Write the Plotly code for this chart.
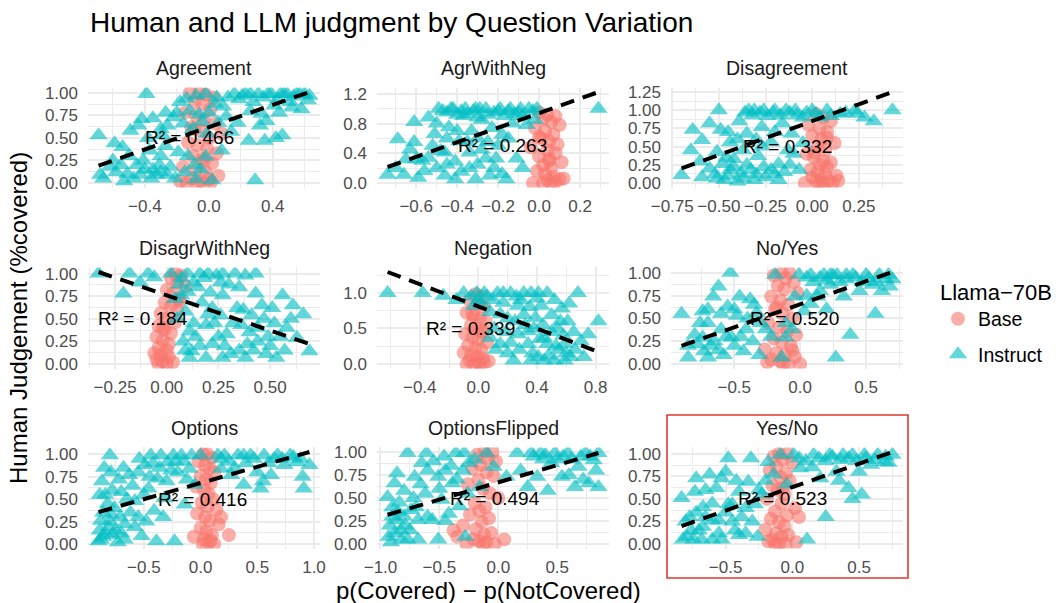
import plotly.graph_objects as go

W, H = 1058, 603

panels = ["Agreement", "AgrWithNeg", "Disagreement", "DisagrWithNeg", "Negation",
          "No/Yes", "Options", "OptionsFlipped", "Yes/No"]
r_squared = [0.466, 0.263, 0.332, 0.184, 0.339, 0.520, 0.416, 0.494, 0.523]
fit_slope = [0.62, 0.98, 0.93, -0.78, -0.78, 0.506, 0.36, 0.375, 0.52]
fit_intercept = [0.62, 0.94, 0.85, 0.76, 0.81, 0.655, 0.68, 0.67, 0.63]
label_x = [-0.118, -0.18, -0.135, -0.115, -0.057, -0.04, 0.021, -0.03, -0.077]
label_y = [0.5, 0.5, 0.5, 0.5, 0.5, 0.5, 0.5, 0.5, 0.5]

# ---------- Base (circles) ----------
agreement_base_x = [-0.12,-0.06,-0.02,0.03,-0.09,-0.04,0.01,-0.15,-0.08,-0.03,0.04,-0.11,-0.05,0.0,-0.13,-0.07,-0.01,0.05,-0.1,-0.04,0.02,-0.16,-0.08,-0.02,0.06,-0.11,-0.05,0.01,-0.14,-0.07,0.0,-0.09,-0.18,0.08,-0.03]
agreement_base_y = [1.0,1.0,0.98,0.95,0.9,0.88,0.82,0.78,0.75,0.7,0.66,0.62,0.58,0.5,0.45,0.42,0.38,0.33,0.3,0.27,0.22,0.18,0.15,0.12,0.08,0.05,0.02,0.0,0.0,0.0,0.04,0.6,0.02,0.55,0.25]
agrneg_base_x = [0.0,0.04,0.08,0.02,0.06,0.1,-0.02,0.03,0.07,0.01,0.05,0.09,-0.04,0.04,0.08,0.0,0.05,0.11,0.02,0.06,-0.01,0.03,0.07,0.12,0.04,0.08,-0.03,0.02,0.06,0.1,0.0,0.05]
agrneg_base_y = [0.95,0.92,0.9,0.86,0.82,0.78,0.74,0.7,0.65,0.6,0.56,0.52,0.48,0.44,0.4,0.36,0.32,0.28,0.24,0.2,0.16,0.12,0.08,0.06,0.04,0.02,0.0,0.0,0.0,0.05,0.62,0.3]
disagree_base_x = [0.02,0.06,0.1,-0.02,0.04,0.08,0.0,0.05,0.12,0.03,0.07,-0.03,0.01,0.06,0.1,0.04,0.08,-0.01,0.03,0.07,0.13,0.0,0.05,0.09,0.02,0.06,-0.04,0.04,0.11,0.14,0.01,0.08]
disagree_base_y = [0.95,0.9,0.85,0.8,0.75,0.7,0.65,0.6,0.55,0.5,0.45,0.4,0.35,0.3,0.28,0.25,0.22,0.18,0.15,0.12,0.1,0.08,0.05,0.03,0.02,0.0,0.0,0.0,0.0,0.03,0.42,0.62]
disneg_base_x = [0.04,0.07,0.02,0.05,0.09,0.0,0.03,0.06,-0.01,0.02,0.05,-0.03,0.0,0.04,-0.04,-0.01,0.02,-0.05,-0.02,0.01,-0.04,0.0,-0.06,-0.03,0.01,-0.05,-0.02,0.03,-0.04,0.0,0.06,-0.02]
disneg_base_y = [1.0,0.98,0.95,0.9,0.86,0.82,0.78,0.72,0.68,0.64,0.6,0.56,0.5,0.46,0.42,0.38,0.34,0.3,0.26,0.22,0.18,0.15,0.12,0.1,0.08,0.05,0.03,0.02,0.0,0.0,0.7,0.4]
negation_base_x = [-0.02,0.02,-0.06,0.0,0.04,-0.08,-0.03,0.01,0.05,-0.05,-0.01,0.03,-0.09,-0.04,0.0,0.06,-0.07,-0.02,0.02,-0.1,-0.05,-0.01,0.03,-0.06,0.0,0.04,-0.08,-0.03,0.01,0.07,-0.04,0.02]
negation_base_y = [0.98,0.95,0.9,0.85,0.8,0.72,0.68,0.64,0.6,0.55,0.5,0.46,0.42,0.38,0.35,0.3,0.26,0.22,0.2,0.16,0.12,0.1,0.08,0.05,0.03,0.02,0.0,0.0,0.0,0.04,0.7,0.45]
noyes_base_x = [-0.14,-0.08,-0.2,-0.11,-0.05,-0.17,-0.12,-0.02,-0.22,-0.15,-0.09,-0.19,-0.13,-0.06,-0.24,-0.16,-0.1,-0.03,-0.2,-0.14,-0.07,-0.27,-0.18,-0.12,-0.04,-0.22,-0.15,-0.09,0.0,-0.25,-0.13,-0.06,-0.18]
noyes_base_y = [1.0,1.0,0.97,0.94,0.9,0.86,0.82,0.78,0.74,0.7,0.65,0.6,0.55,0.5,0.45,0.4,0.36,0.32,0.28,0.24,0.2,0.16,0.12,0.1,0.08,0.05,0.03,0.0,0.0,0.02,0.0,0.15,0.62]
options_base_x = [0.02,0.06,0.1,-0.02,0.04,0.08,0.12,0.0,0.05,0.09,-0.04,0.03,0.07,0.11,0.01,0.06,0.14,-0.03,0.04,0.08,0.16,0.0,0.05,0.1,-0.06,0.03,0.07,0.12,0.02,0.09,0.25,0.18]
options_base_y = [1.0,1.0,0.96,0.92,0.88,0.84,0.8,0.76,0.72,0.68,0.64,0.6,0.56,0.5,0.46,0.42,0.38,0.34,0.3,0.26,0.22,0.18,0.14,0.1,0.08,0.05,0.02,0.0,0.0,0.04,0.1,0.3]
optflip_base_x = [-0.12,-0.05,-0.18,-0.09,-0.02,-0.15,-0.22,-0.1,-0.04,-0.17,-0.26,-0.13,-0.07,0.0,-0.2,-0.11,-0.16,-0.24,-0.08,-0.14,-0.3,-0.19,-0.06,-0.12,-0.35,-0.21,-0.1,-0.03,-0.27,-0.16,0.05,-0.38,-0.13]
optflip_base_y = [1.0,1.0,0.97,0.93,0.9,0.86,0.82,0.78,0.74,0.7,0.65,0.6,0.55,0.5,0.45,0.4,0.36,0.32,0.28,0.24,0.2,0.16,0.12,0.1,0.08,0.05,0.02,0.0,0.0,0.03,0.05,0.15,0.0]
yesno_base_x = [-0.1,-0.04,-0.14,-0.07,0.0,-0.12,-0.17,-0.05,-0.09,-0.02,-0.15,-0.11,-0.06,-0.19,-0.08,0.02,-0.13,-0.04,-0.16,-0.1,-0.06,-0.2,-0.12,-0.03,-0.08,-0.15,0.03,-0.1,-0.05,-0.18,-0.13,-0.07,0.05]
yesno_base_y = [1.0,1.0,0.97,0.93,0.9,0.86,0.82,0.78,0.74,0.7,0.65,0.6,0.55,0.5,0.45,0.4,0.36,0.32,0.28,0.24,0.2,0.16,0.12,0.1,0.08,0.05,0.02,0.0,0.0,0.03,0.0,0.62,0.3]

# ---------- Instruct (triangles), (x, y) pairs ----------
agreement_inst = [(-0.68,0.09),(-0.69,0.53),(-0.59,0.44),(-0.54,0.40),(-0.60,0.25),(-0.55,0.20),(-0.53,0.02),(-0.51,0.10),(-0.49,0.58),(-0.44,0.64),(-0.42,0.71),(-0.39,0.99),(-0.38,0.50),(-0.37,0.36),(-0.41,0.25),(-0.43,0.09),(-0.33,0.09),(-0.31,0.20),(-0.27,0.78),(-0.26,0.64),(-0.29,0.53),(-0.27,0.41),(-0.22,0.73),(-0.20,0.78),(-0.19,0.34),(-0.26,0.09),(-0.18,0.90),(-0.10,0.60),(-0.09,0.20),(-0.08,0.04),(-0.06,0.76),(-0.02,0.99),(-0.01,0.55),(-0.02,0.29),(0.02,0.03),(0.04,0.88),(0.06,0.67),(0.08,0.36),(0.11,0.74),(0.14,0.57),(0.18,0.67),(0.21,0.97),(0.25,0.47),(0.26,0.80),(0.29,0.03),(0.31,0.99),(0.32,0.64),(0.35,0.47),(0.36,0.69),(0.39,0.99),(0.41,0.86),(0.45,0.99),(0.46,0.53),(0.49,0.99),(0.51,0.90),(0.55,0.99),(0.58,0.82),(0.60,0.99),(0.63,0.97),(0.26,0.99),(0.16,0.99),(-0.14,0.94),(-0.47,0.05),(-0.35,0.15),(-0.58,0.12),
                  (0.19,0.93),(0.23,0.99),(0.28,0.90),(0.34,0.95),(0.37,0.99),(0.43,0.93),(0.47,0.99),(0.53,0.96),(0.57,0.99),(0.62,0.92),(0.52,0.84),(0.44,0.78),(0.33,0.77),(0.12,0.95),(0.09,0.85),(-0.45,0.20),(-0.40,0.15),(-0.36,0.05),(-0.30,0.12),(-0.24,0.18),(-0.21,0.05),(-0.15,0.12),(-0.13,0.30),(-0.05,0.15),(-0.30,0.30),(-0.50,0.30),(-0.62,0.18),(-0.66,0.05),(-0.35,0.72),(-0.30,0.60),(-0.16,0.66),(-0.12,0.80),(-0.04,0.68),(0.00,0.78),(0.05,0.95),(-0.08,0.97),(0.42,0.50)]
agrneg_inst = [(-0.74,0.11),(-0.69,0.59),(-0.66,0.11),(-0.61,0.82),(-0.61,0.55),(-0.60,0.32),(-0.59,0.07),(-0.56,0.16),(-0.54,0.34),(-0.51,0.66),(-0.49,1.0),(-0.48,0.43),(-0.46,0.10),(-0.44,0.75),(-0.42,1.0),(-0.41,0.29),(-0.39,0.56),(-0.37,0.90),(-0.36,1.0),(-0.34,0.20),(-0.33,0.70),(-0.31,1.0),(-0.28,0.45),(-0.28,0.85),(-0.26,1.0),(-0.24,0.10),(-0.23,0.74),(-0.21,0.33),(-0.19,1.0),(-0.18,0.65),(-0.16,0.05),(-0.14,1.0),(-0.13,0.80),(-0.11,0.33),(-0.09,1.0),(-0.06,0.78),(-0.05,1.0),(-0.01,1.0),(0.29,1.0),(-0.65,0.32),(-0.54,0.88),(-0.46,0.41),(-0.34,0.41),(-0.26,0.33),(-0.41,0.05),(-0.57,0.30),(-0.31,0.05),(-0.45,0.95),(-0.38,0.97),(-0.22,0.95),(-0.30,0.88),(-0.12,0.93),
               (-0.47,0.97),(-0.43,1.0),(-0.40,0.92),(-0.35,0.93),(-0.32,0.97),(-0.29,1.0),(-0.25,0.92),(-0.20,0.97),(-0.17,0.90),(-0.15,0.97),(-0.10,0.95),(-0.08,0.90),(-0.03,0.97),(-0.02,0.85),(-0.50,0.80),(-0.45,0.60),(-0.40,0.70),(-0.35,0.55),(-0.30,0.60),(-0.25,0.55),(-0.20,0.50),(-0.15,0.60),(-0.50,0.20),(-0.45,0.25),(-0.38,0.15),(-0.30,0.25),(-0.22,0.20),(-0.18,0.12),(-0.08,0.20),(-0.52,0.50),(-0.63,0.45),(-0.70,0.20)]
disagree_inst = [(-0.70,0.11),(-0.65,0.45),(-0.64,0.73),(-0.59,0.59),(-0.55,0.82),(-0.59,0.08),(-0.51,0.43),(-0.50,1.0),(-0.49,0.73),(-0.48,0.26),(-0.47,0.04),(-0.44,0.56),(-0.42,0.33),(-0.40,0.02),(-0.39,0.85),(-0.37,0.45),(-0.35,0.68),(-0.34,1.0),(-0.33,0.18),(-0.31,1.0),(-0.29,0.37),(-0.27,0.77),(-0.26,1.0),(-0.25,0.08),(-0.22,0.56),(-0.20,1.0),(-0.18,0.26),(-0.16,0.82),(-0.14,1.0),(-0.13,0.45),(-0.11,0.68),(-0.09,1.0),(-0.07,0.18),(-0.05,0.90),(0.0,1.0),(0.04,0.90),(0.08,1.0),(0.15,0.95),(0.23,1.0),(0.24,0.95),(0.33,0.85),(0.43,1.0),(-0.44,0.18),(-0.37,0.06),(-0.51,0.06),(-0.31,0.04),(-0.22,0.18),(-0.27,0.50),(-0.18,0.04),
                 (-0.36,0.97),(-0.32,0.93),(-0.28,0.97),(-0.24,0.92),(-0.21,0.97),(-0.17,0.93),(-0.12,0.97),(-0.08,0.93),(-0.03,0.97),(0.02,0.95),(0.10,0.92),(0.18,0.97),(0.28,0.90),(-0.55,0.20),(-0.52,0.12),(-0.45,0.10),(-0.42,0.22),(-0.38,0.13),(-0.35,0.25),(-0.30,0.12),(-0.26,0.22),(-0.20,0.12),(-0.15,0.15),(-0.12,0.25),(-0.46,0.35),(-0.40,0.60),(-0.30,0.60),(-0.20,0.70),(-0.10,0.40),(-0.05,0.55),(-0.60,0.30),(-0.45,0.70)]
disneg_inst = [(-0.33,1.0),(-0.21,0.78),(-0.18,1.0),(-0.09,1.0),(-0.06,0.96),(0.04,0.72),(0.07,0.95),(0.09,0.58),(0.11,0.36),(0.12,0.14),(0.16,1.0),(0.17,0.68),(0.19,0.43),(0.21,0.79),(0.22,0.22),(0.24,0.98),(0.26,0.54),(0.27,0.76),(0.29,0.33),(0.31,0.11),(0.33,1.0),(0.34,0.62),(0.36,0.43),(0.38,0.98),(0.39,0.22),(0.41,0.54),(0.43,1.0),(0.43,0.78),(0.44,0.40),(0.48,0.11),(0.51,0.62),(0.53,0.07),(0.56,0.76),(0.58,0.40),(0.61,0.65),(0.63,0.29),(0.69,0.14),(0.14,0.30),(0.19,0.07),(0.27,0.07),(0.11,0.07),(0.22,0.62),(0.07,0.76),(0.02,1.0),(0.49,0.30),(0.38,0.07),(0.44,0.25),(0.05,0.50),(0.13,0.90),(0.30,0.88),(0.47,0.50),(0.08,0.25),
               (0.06,0.88),(0.10,0.80),(0.15,0.85),(0.18,0.95),(0.20,0.55),(0.23,0.45),(0.25,0.30),(0.28,0.20),(0.32,0.45),(0.35,0.15),(0.37,0.60),(0.40,0.35),(0.42,0.15),(0.46,0.65),(0.50,0.20),(0.52,0.45),(0.55,0.30),(0.57,0.15),(0.60,0.50),(0.09,0.15),(0.13,0.45),(0.16,0.20),(0.26,0.90),(0.35,0.85),(0.10,1.0),(0.20,1.0),(0.27,1.0),(-0.13,0.90),(0.66,0.55)]
negation_inst = [(-0.62,1.0),(-0.38,1.0),(-0.24,0.96),(-0.15,0.90),(-0.10,1.0),(-0.03,0.82),(0.04,1.0),(0.08,0.73),(0.11,0.50),(0.13,1.0),(0.15,0.28),(0.17,0.86),(0.20,0.64),(0.22,1.0),(0.24,0.05),(0.27,0.42),(0.29,0.90),(0.31,0.69),(0.34,0.28),(0.36,1.0),(0.38,0.50),(0.41,0.10),(0.43,0.82),(0.45,0.37),(0.47,1.0),(0.50,0.69),(0.52,0.05),(0.54,0.50),(0.57,0.78),(0.59,0.28),(0.61,0.60),(0.63,0.10),(0.68,1.0),(0.70,0.32),(0.82,0.60),(0.27,0.82),(0.36,0.05),(0.45,0.05),(0.59,0.05),(0.31,1.0),(0.41,1.0),(0.17,1.0),(-0.01,1.0),(0.08,0.37),(0.34,0.46),(0.47,0.28),(0.0,0.90),(0.06,0.95),(0.20,0.15),(0.55,0.20),(0.65,0.45),
                 (0.02,0.85),(0.10,0.90),(0.15,0.70),(0.19,0.45),(0.22,0.30),(0.25,0.60),(0.28,0.20),(0.32,0.55),(0.35,0.80),(0.37,0.15),(0.39,0.65),(0.42,0.35),(0.44,0.55),(0.48,0.12),(0.50,0.45),(0.53,0.25),(0.56,0.60),(0.58,0.40),(0.60,0.15),(0.62,0.85),(0.66,0.20),(0.72,0.10),(0.26,0.95),(0.40,0.92),(0.52,0.90),(0.12,0.20),(-0.05,0.95),(0.75,0.42)]
noyes_inst = [(-0.90,0.55),(-0.85,0.07),(-0.80,0.32),(-0.74,0.58),(-0.73,0.14),(-0.70,0.45),(-0.66,0.74),(-0.65,0.25),(-0.62,0.85),(-0.60,0.38),(-0.58,0.10),(-0.55,0.63),(-0.53,1.0),(-0.52,0.29),(-0.48,0.53),(-0.46,0.74),(-0.43,0.14),(-0.41,0.38),(-0.38,0.71),(-0.36,0.25),(-0.33,0.56),(-0.31,0.10),(-0.26,0.38),(-0.19,0.98),(-0.14,0.07),(-0.11,0.45),(-0.06,0.38),(-0.04,0.74),(-0.01,0.98),(0.03,0.58),(0.08,0.98),(0.13,0.74),(0.18,0.98),(0.23,0.87),(0.27,0.07),(0.28,0.98),(0.33,0.74),(0.38,0.32),(0.40,0.98),(0.45,0.80),(0.50,0.98),(0.55,0.87),(0.57,0.55),(0.60,0.98),(0.62,0.80),(0.67,0.98),(0.70,0.93),(0.23,0.98),(0.35,0.98),(0.08,0.66),(-0.11,0.29),(-0.74,0.29),(-0.70,0.07),
              (0.05,0.95),(0.10,0.90),(0.15,0.95),(0.20,0.92),(0.25,0.97),(0.30,0.90),(0.35,0.93),(0.42,0.95),(0.47,0.90),(0.52,0.94),(0.58,0.90),(0.65,0.93),(0.68,0.85),(-0.85,0.20),(-0.78,0.22),(-0.76,0.45),(-0.68,0.20),(-0.62,0.15),(-0.56,0.30),(-0.50,0.20),(-0.45,0.30),(-0.40,0.50),(-0.35,0.65),(-0.30,0.45),(-0.22,0.30),(-0.50,0.60),(-0.60,0.55),(-0.70,0.60),(0.05,0.75),(0.20,0.60),(0.15,0.80)]
options_inst = [(-0.90,0.03),(-0.89,0.55),(-0.88,0.26),(-0.87,0.70),(-0.84,0.12),(-0.80,0.99),(-0.79,0.80),(-0.76,0.40),(-0.73,0.02),(-0.70,0.58),(-0.67,0.22),(-0.63,0.77),(-0.58,0.48),(-0.54,0.95),(-0.52,0.09),(-0.49,0.88),(-0.46,0.62),(-0.44,0.99),(-0.41,0.37),(-0.38,0.73),(-0.35,0.99),(-0.32,0.51),(-0.29,0.91),(-0.24,0.99),(-0.23,0.03),(-0.20,0.80),(-0.17,0.99),(-0.14,0.44),(-0.10,0.84),(-0.08,0.99),(-0.05,0.66),(0.15,0.99),(0.18,0.84),(0.21,0.99),(0.27,0.77),(0.33,0.99),(0.38,0.66),(0.44,0.99),(0.50,0.80),(0.53,0.62),(0.56,0.99),(0.62,0.77),(0.68,0.99),(0.74,0.88),(0.79,0.99),(0.85,0.91),(0.91,0.62),(0.96,0.88),(-0.88,0.05),(-0.81,0.19),(-0.67,0.05),(-0.79,0.33),(-0.84,0.55),(-0.39,0.03),(-0.58,0.19),(0.38,0.99),(0.0,0.99),(-0.86,0.35),(-0.82,0.45),(-0.75,0.15),(-0.71,0.30),
                (-0.85,0.85),(-0.78,0.60),(-0.72,0.72),(-0.68,0.85),(-0.65,0.50),(-0.60,0.65),(-0.55,0.80),(-0.50,0.55),(-0.45,0.75),(-0.42,0.90),(-0.36,0.85),(-0.30,0.70),(-0.26,0.82),(-0.22,0.92),(-0.15,0.92),(-0.12,0.72),(0.18,0.95),(0.25,0.92),(0.30,0.85),(0.40,0.90),(0.47,0.95),(0.60,0.90),(0.65,0.95),(0.72,0.95),(0.82,0.97),(0.88,0.95),(-0.89,0.15),(-0.86,0.08),(-0.78,0.10),(-0.80,0.25),(-0.70,0.12),(-0.62,0.35),(-0.55,0.30),(-0.48,0.25),(-0.33,0.30),(0.90,0.75),(0.55,0.70)]
optflip_inst = [(-0.94,0.51),(-0.93,0.08),(-0.90,0.30),(-0.86,0.77),(-0.83,0.15),(-0.80,0.58),(-0.77,0.99),(-0.74,0.37),(-0.71,0.73),(-0.68,0.05),(-0.65,0.88),(-0.62,0.55),(-0.61,0.99),(-0.56,0.26),(-0.51,0.73),(-0.48,0.48),(-0.45,0.80),(-0.42,0.33),(-0.39,0.66),(-0.36,0.99),(-0.33,0.41),(-0.29,0.99),(-0.28,0.08),(-0.25,0.88),(-0.16,0.62),(-0.10,0.99),(-0.04,0.84),(0.07,0.73),(0.19,0.80),(0.28,0.99),(0.33,0.73),(0.36,0.99),(0.42,0.58),(0.45,0.88),(0.48,0.99),(0.54,0.73),(0.59,0.99),(0.65,0.62),(0.68,0.84),(0.74,0.99),(0.77,0.66),(0.81,0.91),(0.85,0.99),(0.85,0.62),(-0.91,0.02),(-0.86,0.26),(-0.77,0.05),(-0.68,0.26),(-0.88,0.66),(-0.51,0.05),(0.16,0.99),(0.25,0.62),(-0.90,0.40),(-0.84,0.45),(-0.79,0.20),
                (-0.92,0.20),(-0.88,0.12),(-0.85,0.35),(-0.82,0.05),(-0.80,0.30),(-0.75,0.15),(-0.72,0.50),(-0.70,0.40),(-0.66,0.65),(-0.60,0.80),(-0.55,0.90),(-0.50,0.60),(-0.46,0.95),(-0.40,0.85),(-0.35,0.70),(-0.30,0.80),(-0.26,0.55),(-0.20,0.92),(0.30,0.95),(0.38,0.92),(0.40,0.97),(0.50,0.92),(0.55,0.95),(0.62,0.92),(0.70,0.95),(0.78,0.95),(0.83,0.80),(0.60,0.75),(0.72,0.70),(-0.60,0.30),(-0.45,0.25)]
yesno_inst = [(-0.83,0.51),(-0.79,0.08),(-0.77,0.30),(-0.73,0.58),(-0.70,0.15),(-0.67,0.41),(-0.62,0.77),(-0.60,0.05),(-0.57,0.62),(-0.55,0.26),(-0.53,0.73),(-0.48,0.95),(-0.45,0.44),(-0.43,0.15),(-0.40,0.58),(-0.38,0.30),(-0.33,0.69),(-0.31,0.95),(-0.28,0.44),(-0.26,0.08),(-0.23,0.55),(-0.18,0.91),(-0.14,0.77),(-0.09,0.99),(-0.04,0.66),(0.01,0.99),(0.06,0.84),(0.11,0.05),(0.16,0.99),(0.21,0.73),(0.25,0.30),(0.28,0.99),(0.33,0.80),(0.38,0.99),(0.42,0.62),(0.45,0.99),(0.50,0.80),(0.52,0.55),(0.54,0.99),(0.59,0.88),(0.64,0.99),(0.69,0.91),(0.75,0.99),(-0.82,0.05),(-0.74,0.05),(-0.67,0.19),(-0.60,0.26),(-0.53,0.05),(-0.35,0.12),(-0.72,0.73),(-0.48,0.44),
              (0.05,0.95),(0.10,0.92),(0.20,0.95),(0.25,0.92),(0.30,0.97),(0.36,0.93),(0.42,0.95),(0.48,0.92),(0.55,0.95),(0.62,0.93),(0.70,0.97),(0.72,0.90),(-0.80,0.25),(-0.76,0.15),(-0.72,0.35),(-0.68,0.05),(-0.65,0.30),(-0.60,0.45),(-0.55,0.12),(-0.50,0.35),(-0.45,0.25),(-0.40,0.10),(-0.35,0.40),(-0.30,0.25),(-0.25,0.60),(-0.20,0.70),(-0.65,0.60),(-0.50,0.80),(-0.42,0.70),(0.15,0.85),(0.35,0.70),(0.45,0.50)]

base_x = [agreement_base_x, agrneg_base_x, disagree_base_x, disneg_base_x, negation_base_x,
          noyes_base_x, options_base_x, optflip_base_x, yesno_base_x]
base_y = [agreement_base_y, agrneg_base_y, disagree_base_y, disneg_base_y, negation_base_y,
          noyes_base_y, options_base_y, optflip_base_y, yesno_base_y]
inst_pts = [agreement_inst, agrneg_inst, disagree_inst, disneg_inst, negation_inst,
            noyes_inst, options_inst, optflip_inst, yesno_inst]

# ---------- tick labels ----------
x_ticks = [[-0.4, 0, 0.4], [-0.6, -0.4, -0.2, 0, 0.2], [-0.75, -0.5, -0.25, 0, 0.25],
           [-0.25, 0, 0.25, 0.5], [-0.4, 0, 0.4, 0.8], [-0.5, 0, 0.5],
           [-0.5, 0, 0.5, 1.0], [-1.0, -0.5, 0, 0.5], [-0.5, 0, 0.5]]
x_tick_text = [["−0.4", "0.0", "0.4"], ["−0.6", "−0.4", "−0.2", "0.0", "0.2"],
               ["−0.75", "−0.50", "−0.25", "0.00", "0.25"], ["−0.25", "0.00", "0.25", "0.50"],
               ["−0.4", "0.0", "0.4", "0.8"], ["−0.5", "0.0", "0.5"],
               ["−0.5", "0.0", "0.5", "1.0"], ["−1.0", "−0.5", "0.0", "0.5"], ["−0.5", "0.0", "0.5"]]
y_std = [0, 0.25, 0.5, 0.75, 1.0]
y_std_text = ["0.00", "0.25", "0.50", "0.75", "1.00"]
y_ticks = [y_std, [0, 0.4, 0.8, 1.2], [0, 0.25, 0.5, 0.75, 1.0, 1.25], y_std, [0, 0.5, 1.0],
           y_std, y_std, y_std, y_std]
y_tick_text = [y_std_text, ["0.0", "0.4", "0.8", "1.2"],
               ["0.00", "0.25", "0.50", "0.75", "1.00", "1.25"], y_std_text,
               ["0.0", "0.5", "1.0"], y_std_text, y_std_text, y_std_text, y_std_text]

# ---------- layout geometry (pixels) ----------
cols_px = [(88, 320), (377, 609), (671, 903)]
rows_px = [(87.5, 187.5), (267.4, 368.6), (447.4, 548.6)]

BASE_COL = "#F8766D"
INST_COL = "#00BFC4"
GRID = "#EBEBEB"
FONT = "Liberation Sans, Arial, Helvetica, sans-serif"


def minor_of(ticks):
    step = ticks[1] - ticks[0]
    return [t - step / 2 for t in ticks] + [ticks[-1] + step / 2]


fig = go.Figure()
layout = {}
annotations = []

for i, name in enumerate(panels):
    k = i + 1
    r, c = divmod(i, 3)
    xs_b, ys_b = base_x[i], base_y[i]
    xs_i = [p[0] for p in inst_pts[i]]
    ys_i = [p[1] for p in inst_pts[i]]
    xa = "x" if k == 1 else f"x{k}"
    ya = "y" if k == 1 else f"y{k}"

    fig.add_trace(go.Scatter(x=xs_b, y=ys_b, mode="markers", name="Base",
                             legendgroup="Base", showlegend=(i == 0),
                             marker=dict(symbol="circle", size=14, color=BASE_COL, opacity=0.6,
                                         line=dict(width=0)),
                             xaxis=xa, yaxis=ya))
    fig.add_trace(go.Scatter(x=xs_i, y=ys_i, mode="markers", name="Instruct",
                             legendgroup="Instruct", showlegend=(i == 0),
                             marker=dict(symbol="triangle-up", size=16, color=INST_COL, opacity=0.62,
                                         line=dict(width=0)),
                             xaxis=xa, yaxis=ya))

    all_x = xs_b + xs_i
    xmin, xmax = min(all_x), max(all_x)
    lx = [xmin, xmax]
    ly = [fit_intercept[i] + fit_slope[i] * v for v in lx]
    fig.add_trace(go.Scatter(x=lx, y=ly, mode="lines", showlegend=False,
                             line=dict(color="black", width=4, dash="14px,9px"),
                             xaxis=xa, yaxis=ya, hoverinfo="skip"))

    all_y = ys_b + ys_i + ly
    ymin, ymax = min(all_y), max(all_y)
    xs_span = xmax - xmin
    ys_span = ymax - ymin
    xr = [xmin - 0.05 * xs_span, xmax + 0.05 * xs_span]
    yr = [ymin - 0.05 * ys_span, ymax + 0.05 * ys_span]

    x0, x1 = cols_px[c]
    yt, yb = rows_px[r]
    axis_common = dict(showgrid=True, gridcolor=GRID, gridwidth=1.6, zeroline=False,
                       showline=False, ticks="", automargin=False,
                       tickfont=dict(size=17, color="#4D4D4D", family=FONT))
    layout[f"xaxis{k}"] = dict(axis_common, domain=[x0 / W, x1 / W], anchor=ya, range=xr,
                               tickmode="array", tickvals=x_ticks[i], ticktext=x_tick_text[i],
                               ticklabelstandoff=6,
                               minor=dict(tickvals=minor_of(x_ticks[i]), showgrid=True,
                                          gridcolor=GRID, gridwidth=0.8))
    layout[f"yaxis{k}"] = dict(axis_common, domain=[1 - yb / H, 1 - yt / H], anchor=xa, range=yr,
                               tickmode="array", tickvals=y_ticks[i], ticktext=y_tick_text[i],
                               ticklabelstandoff=9,
                               minor=dict(tickvals=minor_of(y_ticks[i]), showgrid=True,
                                          gridcolor=GRID, gridwidth=0.8))

    annotations.append(dict(text=name, x=(x0 + x1) / 2 / W, y=1 - (yt - 19) / H,
                            xref="paper", yref="paper", showarrow=False,
                            xanchor="center", yanchor="middle",
                            font=dict(size=19.5, color="#1A1A1A", family=FONT)))
    annotations.append(dict(text=f"R² = {r_squared[i]:.3f}", x=label_x[i], y=label_y[i],
                            xref=xa, yref=ya, showarrow=False, xanchor="center", yanchor="middle",
                            font=dict(size=19, color="black", family=FONT)))

annotations.append(dict(text="Human and LLM judgment by Question Variation", x=88 / W, y=1 - 22 / H,
                        xref="paper", yref="paper", showarrow=False, xanchor="left", yanchor="middle",
                        font=dict(size=28, color="black", family=FONT)))
annotations.append(dict(text="p(Covered) − p(NotCovered)", x=488 / W, y=1 - 590 / H,
                        xref="paper", yref="paper", showarrow=False, xanchor="center", yanchor="middle",
                        font=dict(size=24, color="black", family=FONT)))
annotations.append(dict(text="Human Judgement (%covered)", x=18 / W, y=1 - 318 / H,
                        xref="paper", yref="paper", showarrow=False, xanchor="center", yanchor="middle",
                        textangle=-90, font=dict(size=24, color="black", family=FONT)))

fig.update_layout(
    **layout,
    annotations=annotations,
    width=W, height=H, autosize=False,
    margin=dict(l=0, r=0, t=0, b=0),
    paper_bgcolor="white", plot_bgcolor="white",
    font=dict(family=FONT),
    legend=dict(x=938 / W, y=1 - 271 / H, xanchor="left", yanchor="top",
                title=dict(text="Llama−70B", font=dict(size=22, color="black", family=FONT)),
                font=dict(size=19.5, color="black", family=FONT),
                tracegroupgap=7, bgcolor="rgba(0,0,0,0)"),
    shapes=[dict(type="rect", xref="paper", yref="paper",
                 x0=667 / W, x1=908 / W, y0=1 - 578 / H, y1=1 - 415 / H,
                 line=dict(color="#DD3B2F", width=1.6), fillcolor="rgba(0,0,0,0)")],
)

fig.write_html("out.html", config={"displayModeBar": False},
               post_script="document.body.style.margin='0';document.body.style.overflow='hidden';")
